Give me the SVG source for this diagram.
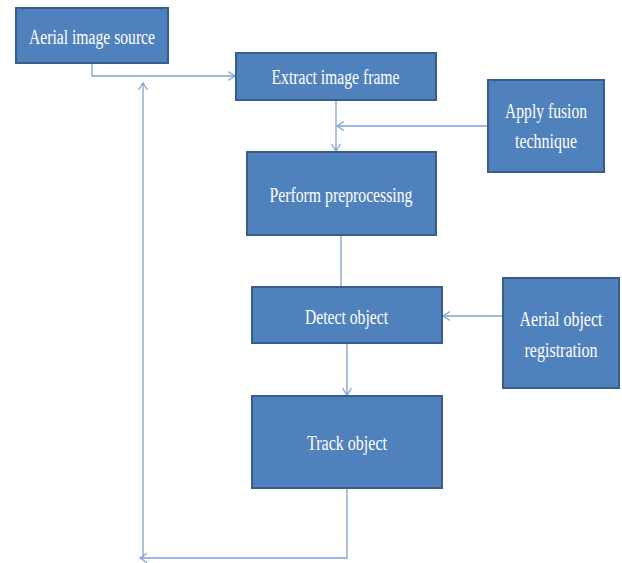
<svg xmlns="http://www.w3.org/2000/svg" width="622" height="563" viewBox="0 0 622 563">
<defs>
<marker id="arr" markerWidth="12" markerHeight="12" refX="9" refY="6" orient="auto" markerUnits="userSpaceOnUse">
<path d="M2,1.5 L9,6 L2,10.5" fill="none" stroke="#7FA1D6" stroke-width="1.3"/>
</marker>
</defs>
<style>
.box{fill:#4F81BD;stroke:#385D8A;stroke-width:2}
.t{font-family:"Liberation Serif","Times New Roman",serif;font-size:20px;fill:#FFFFFF;text-anchor:middle}
.c{fill:none;stroke:#7FA1D6;stroke-width:1.3}
</style>
<rect width="622" height="563" fill="#FFFFFF"/>
<g id="connectors">
<path class="c" d="M92,63 V76 H235" marker-end="url(#arr)"/>
<path class="c" d="M143,558 V83" marker-end="url(#arr)"/>
<path class="c" d="M347,488 V558 H140" marker-end="url(#arr)"/>
<path class="c" d="M336,100 V151" marker-end="url(#arr)"/>
<path class="c" d="M488,126 H337" marker-end="url(#arr)"/>
<path class="c" d="M341,235 V287"/>
<path class="c" d="M503,316 H443" marker-end="url(#arr)"/>
<path class="c" d="M347,343 V395" marker-end="url(#arr)"/>
</g>
<g id="n1"><rect class="box" x="16" y="8" width="152" height="55"/><text class="t" x="92" y="44" textLength="126" lengthAdjust="spacingAndGlyphs">Aerial image source</text></g>
<g id="n2"><rect class="box" x="236" y="53" width="200" height="47"/><text class="t" x="335.5" y="84" textLength="128" lengthAdjust="spacingAndGlyphs">Extract image frame</text></g>
<g id="n3"><rect class="box" x="488" y="80" width="116" height="92"/><text class="t" x="546" y="118" textLength="82" lengthAdjust="spacingAndGlyphs">Apply fusion</text><text class="t" x="546" y="148" textLength="62" lengthAdjust="spacingAndGlyphs">technique</text></g>
<g id="n4"><rect class="box" x="247" y="152" width="189" height="83"/><text class="t" x="341" y="202" textLength="143" lengthAdjust="spacingAndGlyphs">Perform preprocessing</text></g>
<g id="n5"><rect class="box" x="252" y="287" width="190" height="56"/><text class="t" x="346.5" y="324" textLength="83" lengthAdjust="spacingAndGlyphs">Detect object</text></g>
<g id="n6"><rect class="box" x="503" y="278" width="116" height="110"/><text class="t" x="561" y="326" textLength="83" lengthAdjust="spacingAndGlyphs">Aerial object</text><text class="t" x="561" y="357" textLength="73" lengthAdjust="spacingAndGlyphs">registration</text></g>
<g id="n7"><rect class="box" x="252" y="396" width="190" height="92"/><text class="t" x="347" y="450" textLength="80" lengthAdjust="spacingAndGlyphs">Track object</text></g>
</svg>
